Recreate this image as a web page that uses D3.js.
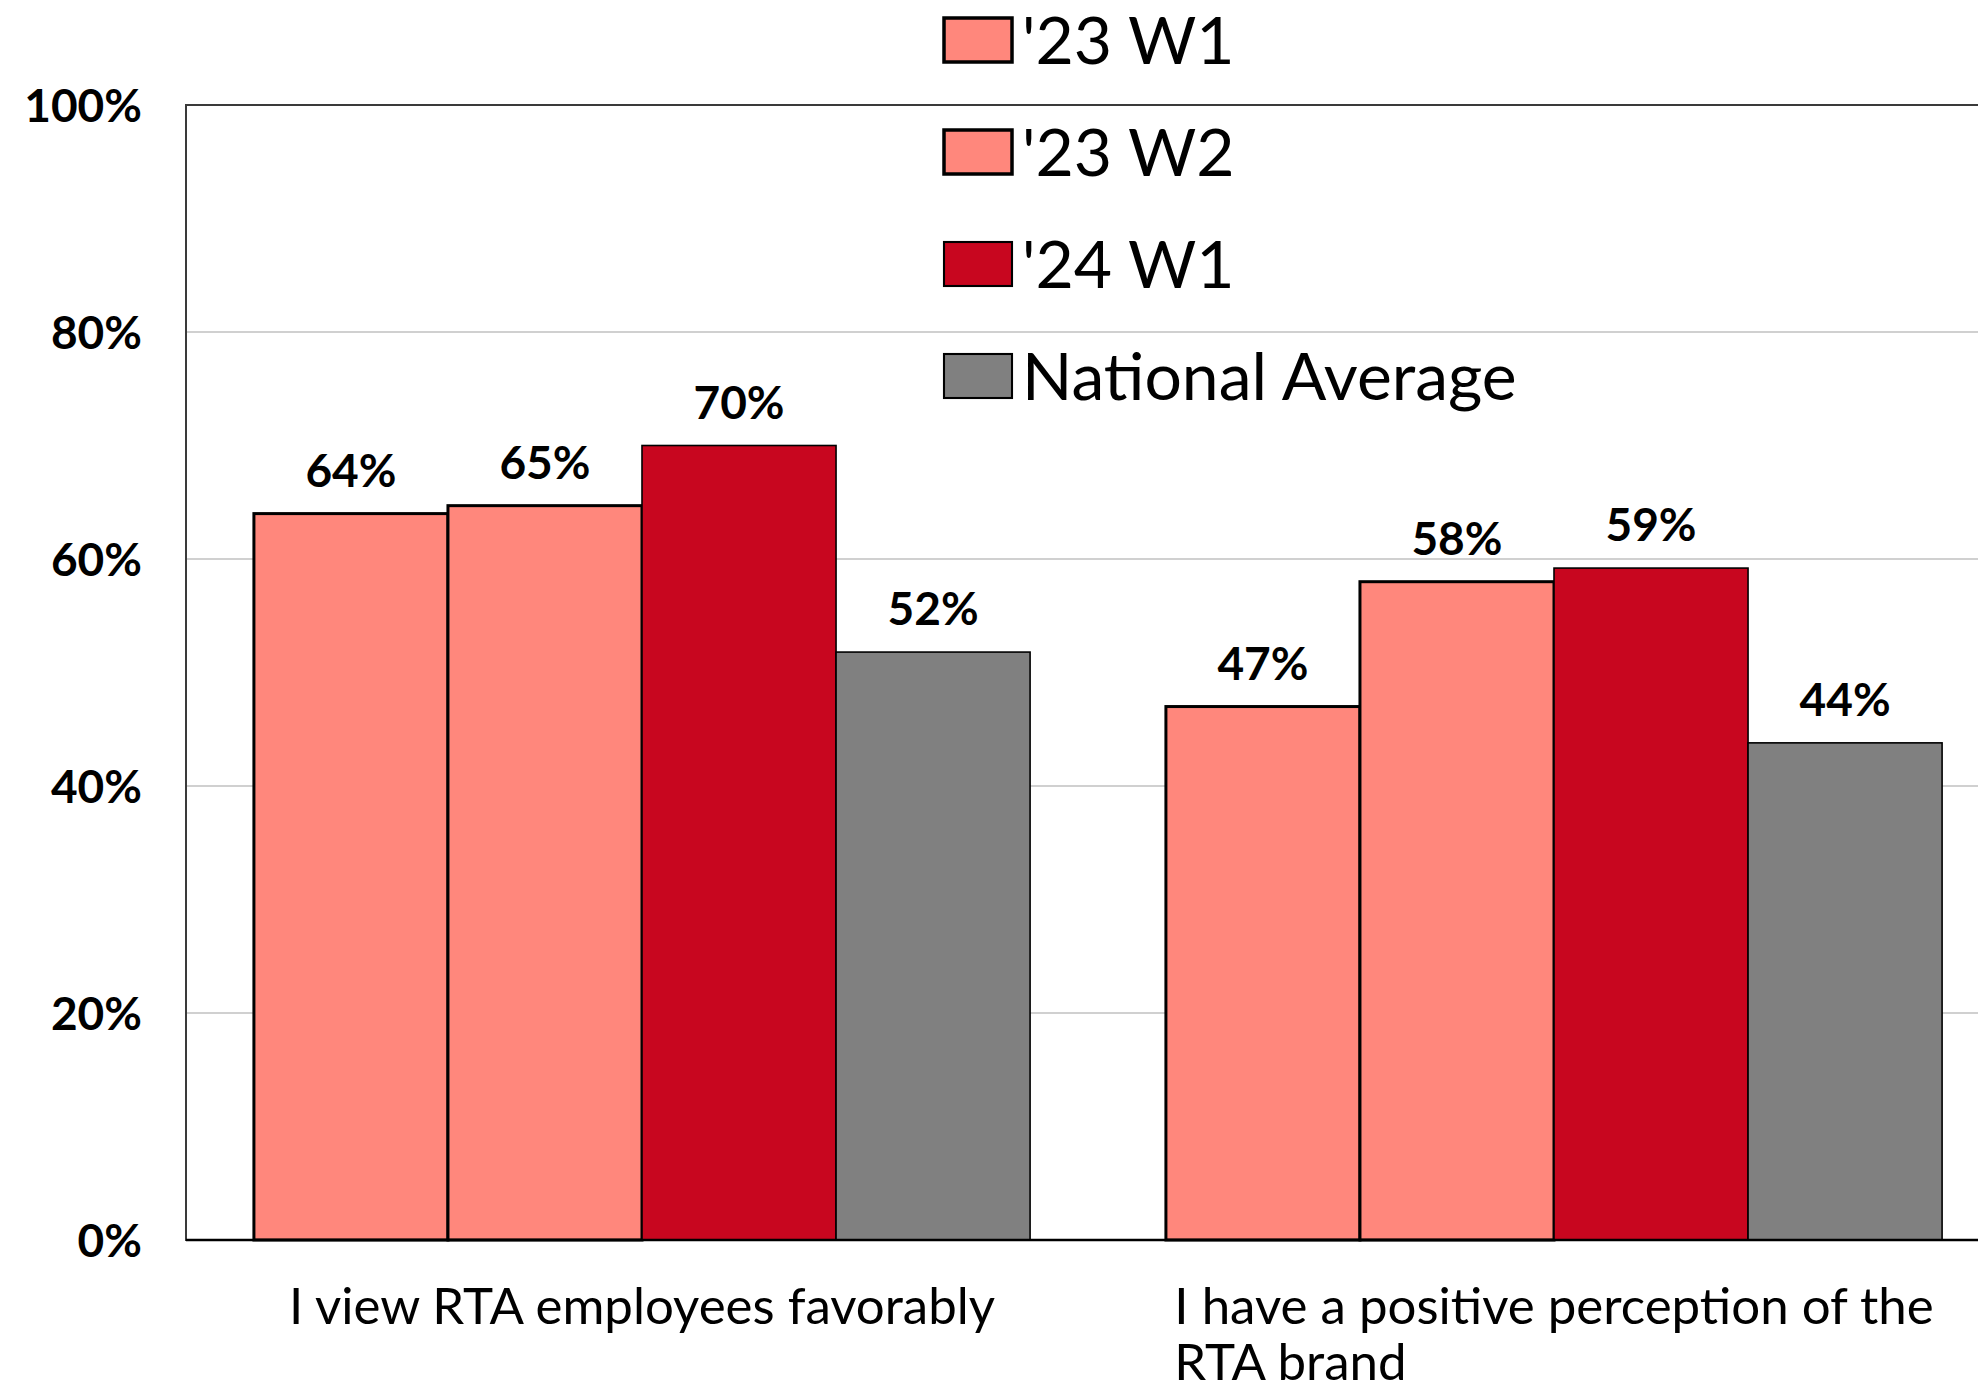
<!DOCTYPE html>
<html>
<head>
<meta charset="utf-8">
<script src="https://cdn.jsdelivr.net/npm/d3@7"></script>
<style>
  html, body { margin: 0; padding: 0; background: #ffffff; }
  svg { display: block; }
  text { font-family: Lato, "Liberation Sans", sans-serif; fill: #000; }
</style>
</head>
<body>
<svg id="chart" width="1978" height="1396"></svg>
<script>
// ---- data ----
const categories = ["I view RTA employees favorably", "I have a positive perception of the RTA brand"];
const seriesNames = ["'23 W1", "'23 W2", "'24 W1", "National Average"];
const w1_2023 = [64.0, 47.0];
const w2_2023 = [64.7, 58.0];
const w1_2024 = [70.0, 59.2];
const nationalAverage = [51.8, 43.8];
const yTicks = [0, 20, 40, 60, 80, 100];

// ---- styles ----
const seriesColors = ["#FF877C", "#FF877C", "#C8061F", "#808080"];
const seriesStroke = [3, 3, 1.6, 1.6];

const seriesValues = [w1_2023, w2_2023, w1_2024, nationalAverage];
const rows = categories.map((c, i) => ({
  category: c,
  values: seriesNames.map((s, j) => ({ series: s, idx: j, value: seriesValues[j][i] }))
}));

const svg = d3.select("#chart");
const plot = { left: 186, right: 2010, top: 105, bottom: 1240 };

const y = d3.scaleLinear().domain([0, 100]).range([plot.bottom, plot.top]);
const x0 = d3.scaleBand().domain(categories).range([plot.left, plot.right]).padding(0);
const x1 = d3.scaleBand().domain(seriesNames).range([0, x0.bandwidth()]).paddingInner(0).paddingOuter(0.35);
const pct = d3.format(".0%");

// gridlines
svg.append("g")
  .selectAll("line")
  .data(yTicks.filter(t => t > 0 && t < 100))
  .join("line")
  .attr("x1", plot.left).attr("x2", plot.right)
  .attr("y1", d => y(d)).attr("y2", d => y(d))
  .attr("stroke", "#d0d0d0").attr("stroke-width", 2);

// plot border (right side is outside view)
svg.append("rect")
  .attr("x", plot.left).attr("y", plot.top)
  .attr("width", plot.right - plot.left).attr("height", plot.bottom - plot.top)
  .attr("fill", "none").attr("stroke", "#3a3a3a").attr("stroke-width", 2);

// y axis
const yAxis = d3.axisLeft(y).tickValues(yTicks).tickSize(0).tickPadding(0)
  .tickFormat(d => pct(d / 100));
const yg = svg.append("g").attr("transform", `translate(142,0)`).call(yAxis);
yg.select(".domain").remove();
yg.selectAll("text")
  .attr("font-family", "Lato, sans-serif")
  .attr("font-size", 46).attr("font-weight", 700).attr("fill", "#000")
  .attr("dy", "0.36em");

// bars
const groups = svg.append("g").selectAll("g")
  .data(rows).join("g")
  .attr("transform", d => `translate(${x0(d.category)},0)`);

groups.selectAll("rect")
  .data(d => d.values).join("rect")
  .attr("x", d => x1(d.series))
  .attr("y", d => y(d.value))
  .attr("width", x1.bandwidth())
  .attr("height", d => y(0) - y(d.value))
  .attr("fill", d => seriesColors[d.idx])
  .attr("stroke", "#000")
  .attr("stroke-width", d => seriesStroke[d.idx]);

groups.selectAll("text.val")
  .data(d => d.values).join("text")
  .attr("class", "val")
  .attr("x", d => x1(d.series) + x1.bandwidth() / 2)
  .attr("y", d => y(d.value) - 27)
  .attr("text-anchor", "middle")
  .attr("font-size", 46).attr("font-weight", 700)
  .text(d => pct(d.value / 100));

// bottom axis line
svg.append("line")
  .attr("x1", plot.left).attr("x2", plot.right)
  .attr("y1", y(0)).attr("y2", y(0))
  .attr("stroke", "#000").attr("stroke-width", 2.5);

// category labels (wrapped, left-aligned block centred on band)
const xAxis = d3.axisBottom(x0).tickSize(0).tickPadding(0);
const xg = svg.append("g").attr("transform", `translate(0,${plot.bottom})`).call(xAxis);
xg.select(".domain").remove();
xg.selectAll("text").remove();
xg.selectAll(".tick").each(function(cat) {
  const g = d3.select(this);
  const t = g.append("text").attr("font-size", 51).attr("font-weight", 400)
    .attr("y", 84).attr("text-anchor", "start").attr("fill", "#000");
  const words = cat.split(" ");
  const maxW = 830;
  let line = [];
  let tspan = t.append("tspan").attr("x", 0);
  words.forEach(w => {
    line.push(w);
    tspan.text(line.join(" "));
    if (tspan.node().getComputedTextLength() > maxW && line.length > 1) {
      line.pop();
      tspan.text(line.join(" "));
      line = [w];
      tspan = t.append("tspan").attr("x", 0).attr("dy", 56).text(w);
    }
  });
  let widest = 0;
  t.selectAll("tspan").each(function() { widest = Math.max(widest, this.getComputedTextLength()); });
  t.selectAll("tspan").attr("x", -widest / 2);
});

// legend
const legend = svg.append("g").selectAll("g")
  .data(seriesNames).join("g")
  .attr("transform", (d, i) => `translate(944,${40 + i * 112})`);
legend.append("rect")
  .attr("x", 0).attr("y", -22).attr("width", 68).attr("height", 44)
  .attr("fill", (d, i) => seriesColors[i])
  .attr("stroke", "#000")
  .attr("stroke-width", (d, i) => seriesStroke[i] + 0.5);
legend.append("text")
  .attr("x", 78).attr("y", 0).attr("dy", "0.36em")
  .attr("font-size", 66)
  .text(d => d);
</script>
</body>
</html>
